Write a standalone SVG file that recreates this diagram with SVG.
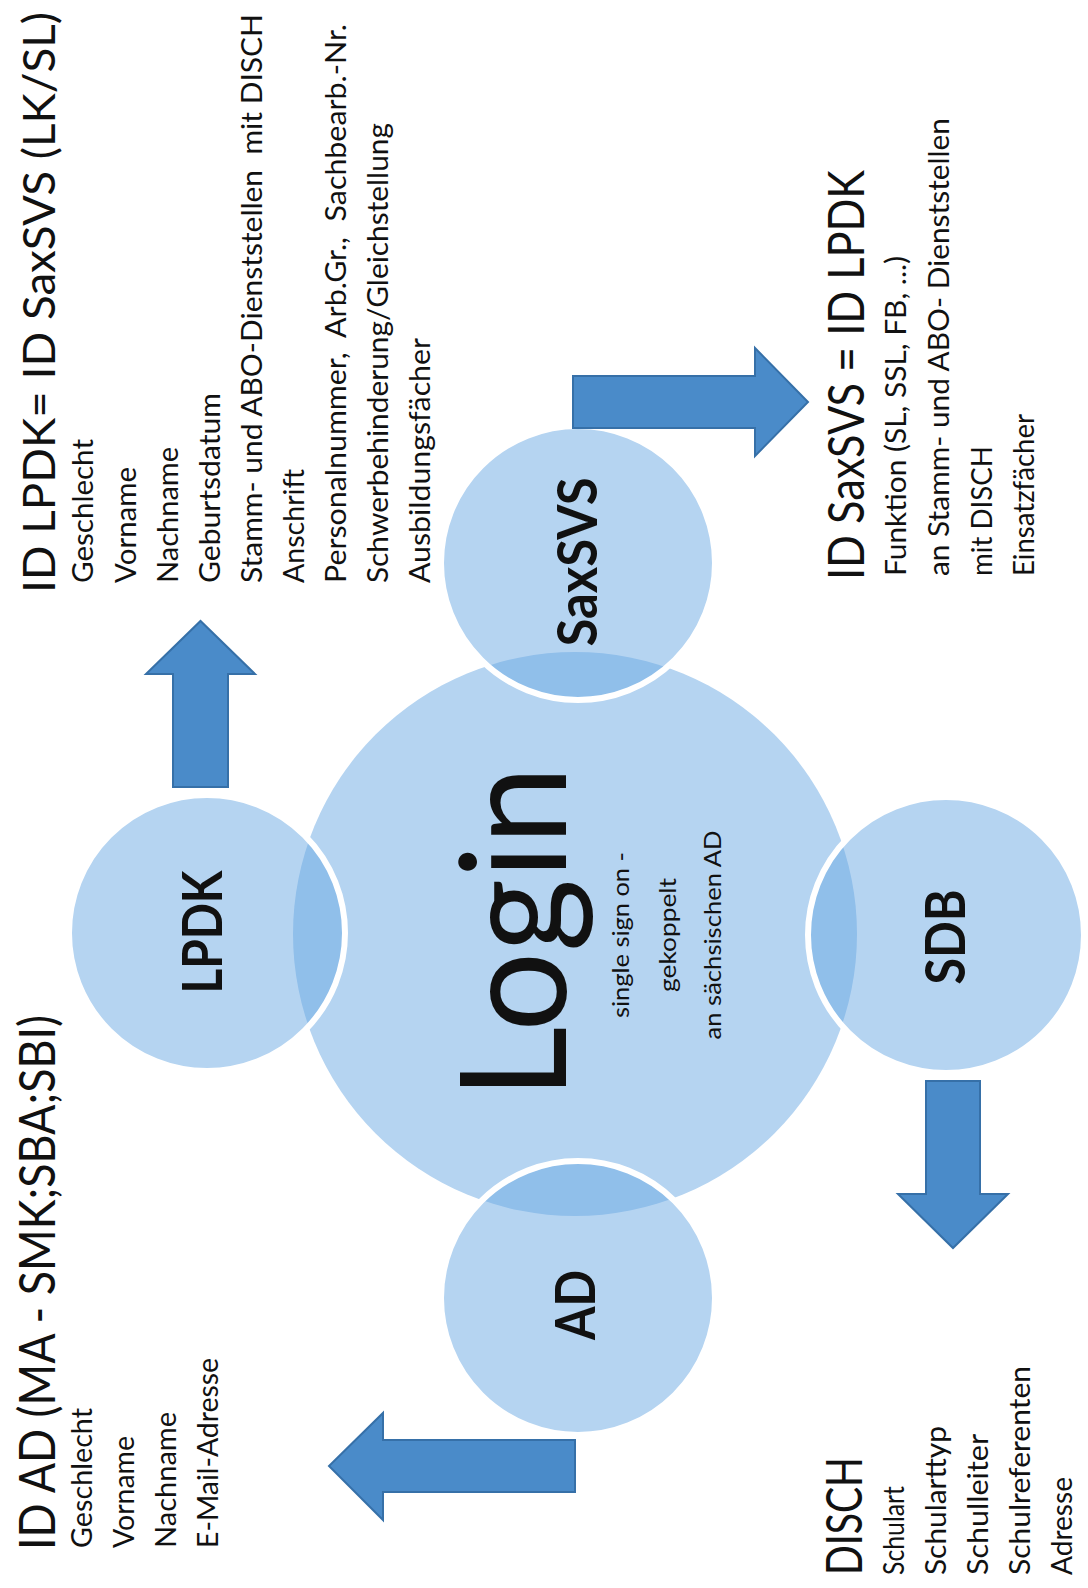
<svg xmlns="http://www.w3.org/2000/svg" width="1088" height="1588" viewBox="0 0 1088 1588">
<style>
  .bg { fill: #ffffff; }
  .core { fill: #b5d4f1; }
  .sat { fill: #6ba9e3; fill-opacity: 0.5; stroke: #ffffff; stroke-width: 6; }
  .arrow { fill: #4a8bc9; stroke: #3670a8; stroke-width: 2; stroke-linejoin: miter; }
  text { font-family: Lato, "Open Sans", "Liberation Sans", sans-serif; fill: #111111; }
  .title { font-size: 51px; }
  .title-tight { font-size: 45px; }
  .item { font-size: 29px; }
  .label { font-size: 55px; font-weight: bold; }
  .big { font-size: 147px; }
  .small { font-size: 24px; }
</style>
<rect class="bg" x="0" y="0" width="1088" height="1588"/>

<g id="node-login">
  <circle class="core" cx="575" cy="934" r="282"/>
  <g transform="translate(0,1588) rotate(-90)">
    <text class="big" x="489" y="566" textLength="333" lengthAdjust="spacingAndGlyphs">Login</text>
    <text class="small" x="653" y="629" text-anchor="middle" textLength="166" lengthAdjust="spacingAndGlyphs">single sign on -</text>
    <text class="small" x="653" y="676" text-anchor="middle" textLength="114" lengthAdjust="spacingAndGlyphs">gekoppelt</text>
    <text class="small" x="653" y="721" text-anchor="middle" textLength="209" lengthAdjust="spacingAndGlyphs">an sächsischen AD</text>
  </g>
</g>

<g id="node-lpdk">
  <circle class="sat" cx="207" cy="933" r="138"/>
  <text class="label" transform="translate(0,1588) rotate(-90)" x="656" y="222" text-anchor="middle" textLength="123" lengthAdjust="spacingAndGlyphs">LPDK</text>
</g>

<g id="node-saxsvs">
  <circle class="sat" cx="578" cy="563" r="137"/>
  <text class="label" transform="translate(0,1588) rotate(-90)" x="1026" y="597" text-anchor="middle" textLength="169" lengthAdjust="spacingAndGlyphs">SaxSVS</text>
</g>

<g id="node-sdb">
  <circle class="sat" cx="946" cy="935" r="138"/>
  <text class="label" transform="translate(0,1588) rotate(-90)" x="651" y="965" text-anchor="middle" textLength="95" lengthAdjust="spacingAndGlyphs">SDB</text>
</g>

<g id="node-ad">
  <circle class="sat" cx="578" cy="1298" r="137"/>
  <text class="label" transform="translate(0,1588) rotate(-90)" x="283" y="595" text-anchor="middle" textLength="70" lengthAdjust="spacingAndGlyphs">AD</text>
</g>

<g id="connectors">
  <polygon class="arrow" points="173,787 173,674 146,674 200.5,621 255,674 228,674 228,787"/>
  <polygon class="arrow" points="573,376 755,376 755,348 808,402 755,456 755,428 573,428"/>
  <polygon class="arrow" points="926,1081 980,1081 980,1194 1008,1194 953,1248 898,1194 926,1194"/>
  <polygon class="arrow" points="575,1440 383,1440 383,1413 329,1466 383,1520 383,1492 575,1492"/>
</g>

<g id="info-lpdk" transform="translate(0,1588) rotate(-90)">
  <text class="title-tight" x="995" y="55" textLength="581" lengthAdjust="spacingAndGlyphs">ID LPDK= ID SaxSVS (LK/SL)</text>
  <text class="item" x="1005" y="93" textLength="144" lengthAdjust="spacingAndGlyphs">Geschlecht</text>
  <text class="item" x="1005" y="136" textLength="116" lengthAdjust="spacingAndGlyphs">Vorname</text>
  <text class="item" x="1005" y="178" textLength="136" lengthAdjust="spacingAndGlyphs">Nachname</text>
  <text class="item" x="1005" y="220" textLength="190" lengthAdjust="spacingAndGlyphs">Geburtsdatum</text>
  <text class="item" x="1005" y="262" textLength="569" lengthAdjust="spacingAndGlyphs" xml:space="preserve">Stamm- und ABO-Dienststellen  mit DISCH</text>
  <text class="item" x="1005" y="304" textLength="114" lengthAdjust="spacingAndGlyphs">Anschrift</text>
  <text class="item" x="1005" y="346" textLength="559" lengthAdjust="spacingAndGlyphs" xml:space="preserve">Personalnummer,  Arb.Gr.,  Sachbearb.-Nr.</text>
  <text class="item" x="1005" y="388" textLength="460" lengthAdjust="spacingAndGlyphs">Schwerbehinderung/Gleichstellung</text>
  <text class="item" x="1005" y="430" textLength="245" lengthAdjust="spacingAndGlyphs">Ausbildungsfächer</text>
</g>

<g id="info-ad" transform="translate(0,1588) rotate(-90)">
  <text class="title" x="38" y="55" textLength="535" lengthAdjust="spacingAndGlyphs">ID AD (MA - SMK;SBA;SBI)</text>
  <text class="item" x="40" y="92" textLength="140" lengthAdjust="spacingAndGlyphs">Geschlecht</text>
  <text class="item" x="40" y="134" textLength="112" lengthAdjust="spacingAndGlyphs">Vorname</text>
  <text class="item" x="40" y="176" textLength="136" lengthAdjust="spacingAndGlyphs">Nachname</text>
  <text class="item" x="40" y="218" textLength="190" lengthAdjust="spacingAndGlyphs">E-Mail-Adresse</text>
</g>

<g id="info-saxsvs" transform="translate(0,1588) rotate(-90)">
  <text class="title" x="1008" y="864" textLength="410" lengthAdjust="spacingAndGlyphs">ID SaxSVS = ID LPDK</text>
  <text class="item" x="1012" y="906" textLength="320" lengthAdjust="spacingAndGlyphs">Funktion (SL, SSL, FB, ...)</text>
  <text class="item" x="1012" y="949" textLength="458" lengthAdjust="spacingAndGlyphs">an Stamm- und ABO- Dienststellen</text>
  <text class="item" x="1012" y="992" textLength="130" lengthAdjust="spacingAndGlyphs">mit DISCH</text>
  <text class="item" x="1012" y="1034" textLength="162" lengthAdjust="spacingAndGlyphs">Einsatzfächer</text>
</g>

<g id="info-disch" transform="translate(0,1588) rotate(-90)">
  <text class="title" x="13" y="862" textLength="118" lengthAdjust="spacingAndGlyphs">DISCH</text>
  <text class="item" x="13" y="904" textLength="89" lengthAdjust="spacingAndGlyphs">Schulart</text>
  <text class="item" x="13" y="946" textLength="149" lengthAdjust="spacingAndGlyphs">Schularttyp</text>
  <text class="item" x="13" y="988" textLength="141" lengthAdjust="spacingAndGlyphs">Schulleiter</text>
  <text class="item" x="13" y="1030" textLength="209" lengthAdjust="spacingAndGlyphs">Schulreferenten</text>
  <text class="item" x="13" y="1072" textLength="98" lengthAdjust="spacingAndGlyphs">Adresse</text>
</g>
</svg>
